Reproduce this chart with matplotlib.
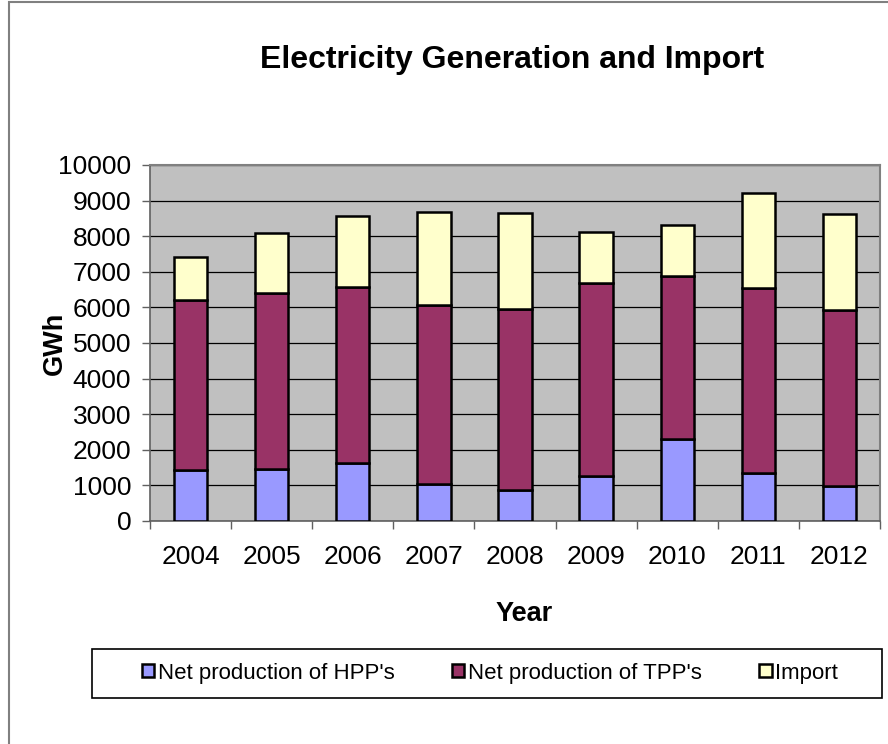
import matplotlib
matplotlib.use("Agg")
import matplotlib.pyplot as plt
from matplotlib.patches import Rectangle
import numpy as np

plt.rcParams['font.family'] = ['Liberation Sans', 'DejaVu Sans']

# Values (GWh)
years = ['2004', '2005', '2006', '2007', '2008', '2009', '2010', '2011', '2012']
hpp = [1440, 1460, 1620, 1040, 880, 1255, 2300, 1350, 975]
tpp = [4770, 4940, 4950, 5030, 5075, 5425, 4590, 5185, 4950]
imports = [1215, 1680, 1990, 2610, 2705, 1440, 1425, 2680, 2700]

W, H = 888, 744
fig = plt.figure(figsize=(W / 100, H / 100), dpi=100)
fig.patch.set_facecolor('white')

# outer chart frame (only top and left edges visible in the crop)
fig.add_artist(Rectangle((9 / W, -0.1), 1.2, 1 - 2 / H + 0.1, transform=fig.transFigure,
                         fill=False, edgecolor='#808080', linewidth=1.5))

ax = fig.add_axes([150 / W, 1 - 521 / H, 730 / W, 356 / H])
ax.set_facecolor('#C0C0C0')

x = np.arange(len(years))
hpp = np.array(hpp)
tpp = np.array(tpp)
imports = np.array(imports)
bw = 0.41
ax.bar(x, hpp, bw, color='#9999FF', edgecolor='black', linewidth=1.8,
       label="Net production of HPP's", zorder=3)
ax.bar(x, tpp, bw, bottom=hpp, color='#993366', edgecolor='black', linewidth=1.8,
       label="Net production of TPP's", zorder=3)
ax.bar(x, imports, bw, bottom=hpp + tpp, color='#FFFFCC', edgecolor='black', linewidth=1.8,
       label='Import', zorder=3)

ax.set_xlim(-0.5, len(years) - 0.5)
ax.set_ylim(0, 10000)
ax.set_yticks(np.arange(0, 10001, 1000))
ax.yaxis.grid(True, color='black', linewidth=0.9, zorder=0)
ax.set_axisbelow(True)

ax.set_xticks(x)
ax.set_xticklabels(years)
ax.set_xticks(np.arange(-0.5, len(years)), minor=True)
ax.tick_params(axis='x', which='major', length=0, pad=17, labelsize=19)
ax.tick_params(axis='x', which='minor', length=6, width=1, direction='out', color='#606060')
ax.tick_params(axis='y', length=5.5, width=1, direction='out', pad=8, labelsize=19, color='#606060')

for side in ['top', 'right']:
    ax.spines[side].set_color('#808080')
    ax.spines[side].set_linewidth(1.5)
for side in ['left', 'bottom']:
    ax.spines[side].set_color('#606060')
    ax.spines[side].set_linewidth(1.2)

ax.set_ylabel('GWh', fontsize=19.5, fontweight='bold')
ax.yaxis.set_label_coords((68 - 150) / 730, 0.5)
ax.set_xlabel('Year', fontsize=19.5, fontweight='bold')
ax.xaxis.set_label_coords((524 - 150) / 730, (521 - 601) / 356)

fig.text(512 / W, 1 - 68 / H, 'Electricity Generation and Import', fontsize=23,
         fontweight='bold', ha='center', va='baseline')

# legend box
fig.add_artist(Rectangle((92 / W, 1 - 698 / H), 790 / W, 49 / H, transform=fig.transFigure,
                         facecolor='white', edgecolor='black', linewidth=1.2))
fig.legend(loc='center', bbox_to_anchor=(490 / W, 1 - 673 / H), ncol=3, frameon=False,
           fontsize=16, handlelength=0.55, handleheight=0.55, handletextpad=0.15,
           columnspacing=2.6)

fig.savefig('out.png', dpi=100)
